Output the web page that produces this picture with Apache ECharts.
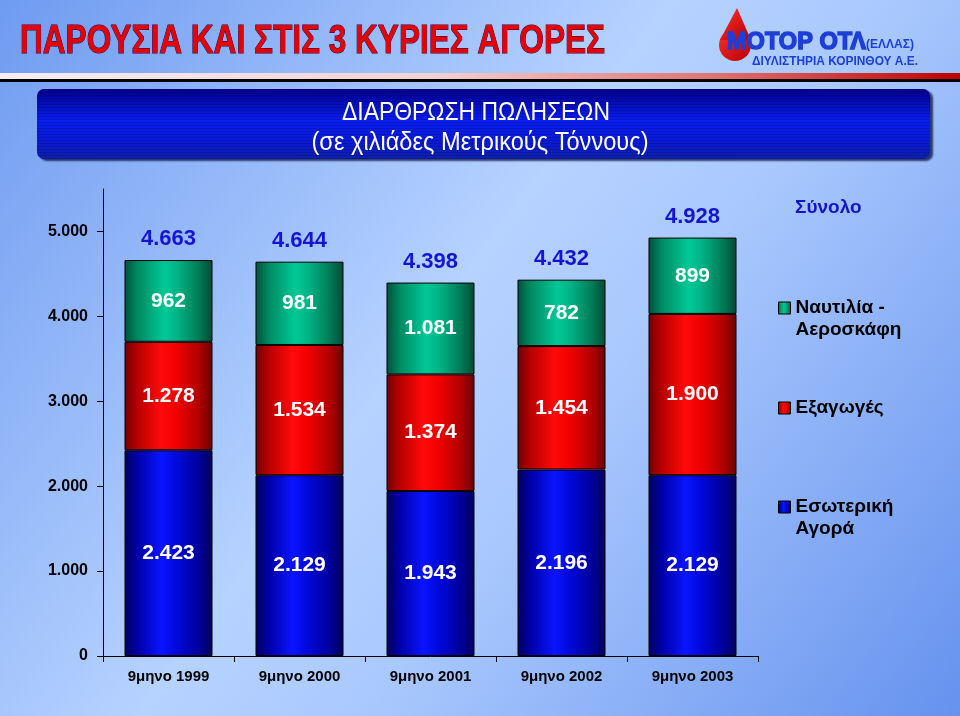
<!DOCTYPE html>
<html>
<head>
<meta charset="utf-8">
<script src="https://cdn.jsdelivr.net/npm/echarts@6/dist/echarts.min.js"></script>
<style>
  html, body { margin: 0; padding: 0; }
  #chart { width: 960px; height: 716px; }
</style>
</head>
<body>
<div id="chart"></div>
<script>
// data
const categories = ['9μηνο 1999', '9μηνο 2000', '9μηνο 2001', '9μηνο 2002', '9μηνο 2003'];
const domestic = [2423, 2129, 1943, 2196, 2129];   // Εσωτερική Αγορά
const exports = [1278, 1534, 1374, 1454, 1900];    // Εξαγωγές
const marine = [962, 981, 1081, 782, 899];         // Ναυτιλία - Αεροσκάφη
const totals = [4663, 4644, 4398, 4432, 4928];     // Σύνολο
const yTicks = [0, 1000, 2000, 3000, 4000, 5000];

// 1278 -> "1.278"
const fmt = v => String(v).replace(/\B(?=(\d{3})+(?!\d))/g, '.');

function fitScale(text, font, width) {
  const ctx = document.createElement('canvas').getContext('2d');
  ctx.font = font;
  return width / ctx.measureText(text).width;
}

function hGrad(stops) {
  return new echarts.graphic.LinearGradient(0, 0, 1, 0,
    stops.map(s => ({ offset: s[0], color: s[1] })));
}

// thin stripes for the subtitle banner
const stripe = document.createElement('canvas');
stripe.width = 4; stripe.height = 3;
(function () {
  const c = stripe.getContext('2d');
  c.fillStyle = 'rgba(0,0,60,0.22)';
  c.fillRect(0, 2, 4, 1);
})();

const titleText = 'ΠΑΡΟΥΣΙΑ ΚΑΙ ΣΤΙΣ 3 ΚΥΡΙΕΣ ΑΓΟΡΕΣ';
const titleFont = 'bold 40px "Liberation Sans Narrow", "Liberation Sans", Arial';
const sub1 = 'ΔΙΑΡΘΡΩΣΗ ΠΩΛΗΣΕΩΝ';
const sub2 = '(σε χιλιάδες Μετρικούς Τόννους)';
const subFont = '26px "Liberation Sans Narrow", "Liberation Sans", Arial';
const logo1 = 'ΜΟΤΟΡ ΟΤΛ';
const logo1Font = 'bold 24px "Liberation Sans", Arial';
const logo2 = 'ΔΙΥΛΙΣΤΗΡΙΑ ΚΟΡΙΝΘΟΥ Α.Ε.';
const logo2Font = 'bold 13px "Liberation Sans Narrow", "Liberation Sans", Arial';

const chart = echarts.init(document.getElementById('chart'));

const labelFont = { fontFamily: '"Liberation Sans", Arial', fontWeight: 'bold' };
const dropFill = new echarts.graphic.LinearGradient(0, 0, 1, 1, [{ offset: 0, color: '#ff3030' }, { offset: 1, color: '#b40000' }]);
const legendText = { color: '#000', fontSize: 19, lineHeight: 22, ...labelFont };

chart.setOption({
  backgroundColor: new echarts.graphic.LinearGradient(0, 0, 1, 1, [
    { offset: 0, color: '#6f9bf0' },
    { offset: 0.45, color: '#b6d2ff' },
    { offset: 0.6, color: '#a9c8fd' },
    { offset: 1, color: '#6692ee' }
  ]),
  animation: false,
  grid: { left: 103, right: 202, top: 189, bottom: 60 },
  xAxis: {
    type: 'category',
    data: categories,
    axisLine: { lineStyle: { color: '#000', width: 1 } },
    axisTick: { show: true, length: 6, lineStyle: { color: '#000' } },
    axisLabel: { color: '#000', fontSize: 15, margin: 13, ...labelFont }
  },
  yAxis: {
    type: 'value',
    min: 0,
    max: 5500,
    interval: 1000,
    splitLine: { show: false },
    axisLine: { show: true, lineStyle: { color: '#000', width: 1 } },
    axisTick: { show: true, length: 6, lineStyle: { color: '#000' }, customValues: yTicks },
    axisLabel: { color: '#000', fontSize: 16, margin: 15, formatter: fmt, customValues: yTicks, ...labelFont }
  },
  legend: [
    { left: 778, top: 197, padding: 0, itemWidth: 12, itemHeight: 12, selectedMode: false,
      data: [{ name: 'Σύνολο', icon: 'none' }],
      textStyle: { ...legendText, color: '#1414c8', lineHeight: 22 } },
    { left: 778, top: 275, padding: 0, itemWidth: 12, itemHeight: 12, selectedMode: false,
      data: ['Ναυτιλία - Αεροσκάφη'], icon: 'rect',
      itemStyle: { borderColor: '#000', borderWidth: 1 },
      formatter: () => '\nΝαυτιλία -\nΑεροσκάφη',
      textStyle: legendText },
    { left: 778, top: 397, padding: 0, itemWidth: 12, itemHeight: 12, selectedMode: false,
      data: ['Εξαγωγές'], icon: 'rect',
      itemStyle: { borderColor: '#000', borderWidth: 1 },
      textStyle: legendText },
    { left: 778, top: 474, padding: 0, itemWidth: 12, itemHeight: 12, selectedMode: false,
      data: ['Εσωτερική Αγορά'], icon: 'rect',
      itemStyle: { borderColor: '#000', borderWidth: 1 },
      formatter: () => '\nΕσωτερική\nΑγορά',
      textStyle: legendText }
  ],
  series: [
    {
      name: 'Εσωτερική Αγορά', type: 'bar', stack: 'sales', data: domestic,
      barWidth: 88, barGap: '-100%',
      itemStyle: {
        borderColor: '#000', borderWidth: 1,
        color: hGrad([[0, '#00005c'], [0.15, '#0000a8'], [0.42, '#0a14ff'], [0.6, '#0008d8'], [0.85, '#00009a'], [1, '#000058']])
      },
      label: { show: true, position: 'inside', color: '#fff', fontSize: 21, formatter: p => fmt(p.value), ...labelFont }
    },
    {
      name: 'Εξαγωγές', type: 'bar', stack: 'sales', data: exports,
      barWidth: 88, barGap: '-100%',
      itemStyle: {
        borderColor: '#000', borderWidth: 1,
        color: hGrad([[0, '#700000'], [0.15, '#b80000'], [0.42, '#ff0a0a'], [0.6, '#f00000'], [0.85, '#b00000'], [1, '#6a0000']])
      },
      label: { show: true, position: 'inside', color: '#fff', fontSize: 21, formatter: p => fmt(p.value), ...labelFont }
    },
    {
      name: 'Ναυτιλία - Αεροσκάφη', type: 'bar', stack: 'sales', data: marine,
      barWidth: 88, barGap: '-100%',
      itemStyle: {
        borderColor: '#000', borderWidth: 1,
        color: hGrad([[0, '#00503a'], [0.15, '#008a62'], [0.45, '#00c896'], [0.6, '#00b486'], [0.85, '#007a56'], [1, '#004a34']])
      },
      label: { show: true, position: 'inside', color: '#fff', fontSize: 21, formatter: p => fmt(p.value), ...labelFont }
    },
    {
      name: 'Σύνολο', type: 'bar', data: totals,
      barWidth: 88, barGap: '-100%', silent: true, z: 1,
      itemStyle: { color: 'rgba(0,0,0,0)' },
      label: { show: true, position: 'top', distance: 10, color: '#1414d2', fontSize: 22, formatter: p => fmt(p.value), ...labelFont }
    }
  ],
  graphic: [
    // header title
    {
      type: 'text', x: 20, y: 42,
      scaleX: fitScale(titleText, titleFont, 585),
      style: {
        text: titleText, font: titleFont, fill: '#e60000', verticalAlign: 'middle',
        stroke: '#1a0050', lineWidth: 1,
        shadowColor: '#10104a', shadowOffsetX: 2, shadowOffsetY: 2, shadowBlur: 0
      }
    },
    // strip under the header
    {
      type: 'rect', shape: { x: 0, y: 73, width: 960, height: 6 },
      style: { fill: hGrad([[0, '#f6eef4'], [0.45, '#f2d2d2'], [0.75, '#e07070'], [1, '#c00000']]) }
    },
    { type: 'rect', shape: { x: 0, y: 79, width: 960, height: 3 }, style: { fill: '#000' } },
    // logo drop
    { type: 'circle', shape: { cx: 735, cy: 45, r: 16 }, style: { fill: dropFill } },
    { type: 'polygon', shape: { points: [[737, 8], [720, 40], [751, 40]] }, style: { fill: dropFill } },
    {
      type: 'text', x: 727, y: 42,
      scaleX: fitScale(logo1, logo1Font, 139),
      style: { text: logo1, font: logo1Font, fill: '#1e3ed8', stroke: '#1e3ed8', lineWidth: 1.5, verticalAlign: 'middle' }
    },
    {
      type: 'text', x: 866, y: 45,
      style: { text: '(ΕΛΛΑΣ)', font: 'bold 12px "Liberation Sans Narrow", "Liberation Sans", Arial', fill: '#1e3ed8', verticalAlign: 'middle' }
    },
    {
      type: 'text', x: 752, y: 61,
      scaleX: fitScale(logo2, logo2Font, 166),
      style: { text: logo2, font: logo2Font, fill: '#1e3ed8', verticalAlign: 'middle' }
    },
    // subtitle banner
    {
      type: 'rect', shape: { x: 37, y: 89, width: 893, height: 70, r: 7 },
      style: {
        fill: new echarts.graphic.LinearGradient(0, 0, 0, 1, [
          { offset: 0, color: '#00008c' },
          { offset: 0.45, color: '#0a1ef2' },
          { offset: 0.75, color: '#0a1ad8' },
          { offset: 1, color: '#0e20a8' }
        ]),
        shadowColor: 'rgba(0,0,50,0.7)', shadowOffsetX: 3, shadowOffsetY: 2, shadowBlur: 2
      }
    },
    {
      type: 'rect', shape: { x: 37, y: 89, width: 893, height: 70, r: 7 },
      style: { fill: { image: stripe, repeat: 'repeat' } }
    },
    {
      type: 'text', x: 476, y: 113,
      scaleX: fitScale(sub1, subFont, 268),
      style: { text: sub1, font: subFont, fill: '#fff', align: 'center', verticalAlign: 'middle' }
    },
    {
      type: 'text', x: 480, y: 143,
      scaleX: fitScale(sub2, subFont, 337),
      style: { text: sub2, font: subFont, fill: '#fff', align: 'center', verticalAlign: 'middle' }
    }
  ]
});
</script>
</body>
</html>
